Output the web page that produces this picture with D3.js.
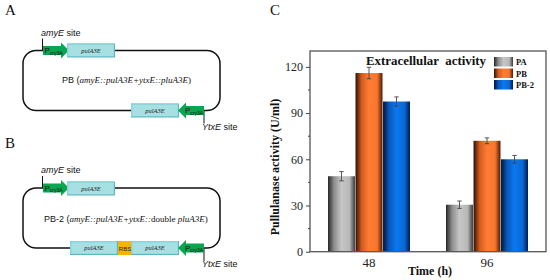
<!DOCTYPE html>
<html>
<head>
<meta charset="utf-8">
<script src="https://cdn.jsdelivr.net/npm/d3@7"></script>
<style>
  html, body { margin: 0; padding: 0; background: #fff; }
  svg { display: block; }
  .serif { font-family: "Liberation Serif", serif; }
  .sans { font-family: "Liberation Sans", sans-serif; }
</style>
</head>
<body>
<div id="chart"></div>
<script>
const times = ['48', '96']
const seriesNames = ['PA', 'PB', 'PB-2']
const paValues = [49, 30.5]
const pbValues = [116, 72]
const pb2Values = [97.5, 60]
const paErrors = [3, 2.4]
const pbErrors = [3.7, 1.9]
const pb2Errors = [3, 2.5]
const yTicks = [0, 30, 60, 90, 120]

const seriesValues = [paValues, pbValues, pb2Values]
const seriesErrors = [paErrors, pbErrors, pb2Errors]
const seriesStops = [
  ['#262626', '#8c8c8c', '#c6c6c6', '#b8b8b8', '#3a3a3a'],
  ['#2e1003', '#d05a1e', '#ff7c33', '#f8762e', '#4a1c06'],
  ['#00143a', '#0a58b8', '#0a78f0', '#0a68d4', '#001c50']
]
const stopOffsets = [0, 0.22, 0.5, 0.8, 1]

const config = {
  left: 310, right: 546, top: 51, bottom: 251.7,
  yMax: 130.3
}

const svg = d3.select('#chart').append('svg')
  .attr('width', 550)
  .attr('height', 280)

// gradients for bars and legend swatches
const defs = svg.append('defs')
seriesNames.forEach((name, i) => {
  const grad = defs.append('linearGradient').attr('id', 'bar' + i)
  seriesStops[i].forEach((c, j) => {
    grad.append('stop')
      .attr('offset', stopOffsets[j])
      .attr('stop-color', c)
  })
})

// chart C
const x = d3.scaleBand().domain(times).range([config.left, config.right])
const xInner = d3.scaleBand().domain(d3.range(3))
  .range([18, x.bandwidth() - 18])
  .paddingInner(0.02)
const y = d3.scaleLinear().domain([0, config.yMax]).range([config.bottom, config.top])

const plot = svg.append('g')

seriesNames.forEach((name, s) => {
  times.forEach((t, k) => {
    const v = seriesValues[s][k]
    const e = seriesErrors[s][k]
    const cx = x(t) + xInner(s) + xInner.bandwidth() / 2
    plot.append('rect')
      .attr('x', x(t) + xInner(s))
      .attr('y', y(v))
      .attr('width', xInner.bandwidth())
      .attr('height', y(0) - y(v))
      .attr('fill', `url(#bar${s})`)
    const err = plot.append('g').attr('stroke', '#444').attr('stroke-width', 0.9).attr('fill', 'none')
    err.append('line').attr('x1', cx).attr('x2', cx).attr('y1', y(v - e)).attr('y2', y(v + e))
    err.append('line').attr('x1', cx - 2.2).attr('x2', cx + 2.2).attr('y1', y(v - e)).attr('y2', y(v - e))
    err.append('line').attr('x1', cx - 2.2).attr('x2', cx + 2.2).attr('y1', y(v + e)).attr('y2', y(v + e))
  })
})

// frame
plot.append('rect')
  .attr('x', config.left).attr('y', config.top)
  .attr('width', config.right - config.left).attr('height', config.bottom - config.top)
  .attr('fill', 'none').attr('stroke', '#555').attr('stroke-width', 1.3)

// axes
const yAxis = d3.axisLeft(y).tickValues(yTicks).tickSize(4).tickPadding(3)
const yAxisGroup = svg.append('g')
  .attr('transform', `translate(${config.left},0)`)
  .call(yAxis)
yAxisGroup.select('.domain').remove()
yAxisGroup.selectAll('line').attr('stroke', '#444')
yAxisGroup.selectAll('text')
  .attr('class', 'serif').attr('font-size', 12).attr('fill', '#222')

const minor = d3.range(15, 120, 30)
svg.append('g').selectAll('line').data(minor).enter().append('line')
  .attr('x1', config.left - 2).attr('x2', config.left)
  .attr('y1', d => y(d)).attr('y2', d => y(d))
  .attr('stroke', '#444')

const xAxis = d3.axisBottom(x).tickSize(0).tickPadding(6)
const xAxisGroup = svg.append('g')
  .attr('transform', `translate(0,${config.bottom})`)
  .call(xAxis)
xAxisGroup.select('.domain').remove()
xAxisGroup.selectAll('text')
  .attr('class', 'serif').attr('font-size', 13).attr('fill', '#222')

const label = (sel, xp, yp, txt, cls, size, weight, anchor) => sel.append('text')
  .attr('x', xp).attr('y', yp)
  .attr('class', cls)
  .attr('font-size', size)
  .attr('font-weight', weight || 'normal')
  .attr('text-anchor', anchor || 'start')
  .attr('fill', '#111')
  .text(txt)

label(svg, 430, 275, 'Time (h)', 'serif', 12, 'bold', 'middle')
label(svg, 0, 0, 'Pullulanase activity (U/ml)', 'serif', 12, 'bold', 'middle')
  .attr('x', null).attr('y', null)
  .attr('transform', 'translate(279,167) rotate(-90)')
label(svg, 366, 65, 'Extracellular  activity', 'serif', 12.9, 'bold')
  .style('white-space', 'pre')

// legend
const legend = svg.append('g')
seriesNames.forEach((name, i) => {
  legend.append('rect')
    .attr('x', 494).attr('y', 57 + i * 11.5)
    .attr('width', 19).attr('height', 9.5)
    .attr('fill', `url(#bar${i})`)
  label(legend, 516, 65 + i * 11.5, name, 'serif', 8.5, 'bold')
})

// panel letters
label(svg, 5, 15, 'A', 'serif', 15)
label(svg, 5, 148, 'B', 'serif', 15)
label(svg, 270, 15, 'C', 'serif', 15)

// plasmid maps
const geneBox = (g, xp, yp, w, h) => {
  g.append('rect').attr('x', xp).attr('y', yp).attr('width', w).attr('height', h)
    .attr('fill', '#5cb8c0')
  g.append('rect').attr('x', xp).attr('y', yp).attr('width', w - 1).attr('height', h - 1)
    .attr('fill', '#8ad4da')
  g.append('rect').attr('x', xp + 1.5).attr('y', yp + 1.5).attr('width', w - 3).attr('height', h - 3)
    .attr('fill', '#a6e0e3')
  g.append('text').attr('x', xp + w / 2).attr('y', yp + h / 2 + 2.2)
    .attr('class', 'serif').attr('font-size', 6.5).attr('font-style', 'italic')
    .attr('text-anchor', 'middle').attr('fill', '#222').text('pulA3E')
}

const promoter = (g, xp, yMid, dir) => {
  const len = 26
  const head = 8
  const pts = [[0, -4.5], [len - head, -4.5], [len - head, -8], [len, 0], [len - head, 8], [len - head, 4.5], [0, 4.5]]
    .map(p => [xp + dir * p[0], yMid + p[1]])
  g.append('polygon').attr('points', pts.join(' ')).attr('fill', '#0aa550')
  const tx = dir > 0 ? xp + 1.5 : xp - len + 7
  const t = g.append('text').attr('x', tx).attr('y', yMid + 2.5)
    .attr('class', 'sans').attr('font-size', 8).attr('fill', '#111')
  t.append('tspan').text('P')
  t.append('tspan').attr('font-size', 5).attr('dy', 1.5).text('cry3A')
}

const sites = (g, yTop, yBottom) => {
  g.append('line').attr('x1', 42.5).attr('x2', 42.5).attr('y1', yTop - 12).attr('y2', yTop)
    .attr('stroke', '#111').attr('stroke-width', 1)
  g.append('line').attr('x1', 204).attr('x2', 204).attr('y1', yBottom).attr('y2', yBottom + 13)
    .attr('stroke', '#111').attr('stroke-width', 1)
  const a = g.append('text').attr('x', 41).attr('y', yTop - 15)
    .attr('class', 'sans').attr('font-size', 9).attr('fill', '#111')
  a.append('tspan').attr('font-style', 'italic').text('amyE')
  a.append('tspan').text(' site')
  const b = g.append('text').attr('x', 202).attr('y', yBottom + 19)
    .attr('class', 'sans').attr('font-size', 9).attr('fill', '#111')
  b.append('tspan').attr('font-style', 'italic').text('YtxE')
  b.append('tspan').text(' site')
}

const loop = (g, yTop, yBottom) => {
  g.append('rect').attr('x', 23).attr('y', yTop).attr('width', 197).attr('height', yBottom - yTop)
    .attr('rx', 13).attr('ry', 13)
    .attr('fill', 'none').attr('stroke', '#111').attr('stroke-width', 1.5)
}

const nameLabel = (g, xp, yp, parts) => {
  const t = g.append('text').attr('x', xp).attr('y', yp).attr('class', 'serif')
    .attr('font-size', 9).attr('fill', '#111')
  t.append('tspan').attr('class', 'sans').text(parts[0])
  parts.slice(1).forEach(p => {
    t.append('tspan').attr('font-style', p[1] ? 'italic' : 'normal').text(p[0])
  })
}

// map A
const mapA = svg.append('g')
loop(mapA, 50.5, 110.5)
sites(mapA, 50.5, 110.5)
promoter(mapA, 43, 50.5, 1)
geneBox(mapA, 67, 43.5, 48, 14)
geneBox(mapA, 131, 103.5, 48, 14)
promoter(mapA, 204, 110.5, -1)
nameLabel(mapA, 62, 83, ['PB (', ['amyE::pulA3E+ytxE::pluA3E', true], [')', false]])

// map B
const mapB = svg.append('g')
loop(mapB, 188, 248)
sites(mapB, 188, 248)
promoter(mapB, 43, 188, 1)
geneBox(mapB, 67, 181.5, 48, 14)
geneBox(mapB, 70, 241, 48, 14)
mapB.append('rect').attr('x', 118).attr('y', 241).attr('width', 14).attr('height', 14).attr('fill', '#f5b400')
mapB.append('text').attr('x', 125).attr('y', 250.5).attr('class', 'sans')
  .attr('font-size', 6).attr('text-anchor', 'middle').attr('fill', '#222').text('RBS')
geneBox(mapB, 131, 241, 48, 14)
promoter(mapB, 204, 248, -1)
nameLabel(mapB, 44, 222, ['PB-2 (', ['amyE::pulA3E+ytxE::', true], ['double ', false], ['pluA3E', true], [')', false]])
</script>
</body>
</html>
